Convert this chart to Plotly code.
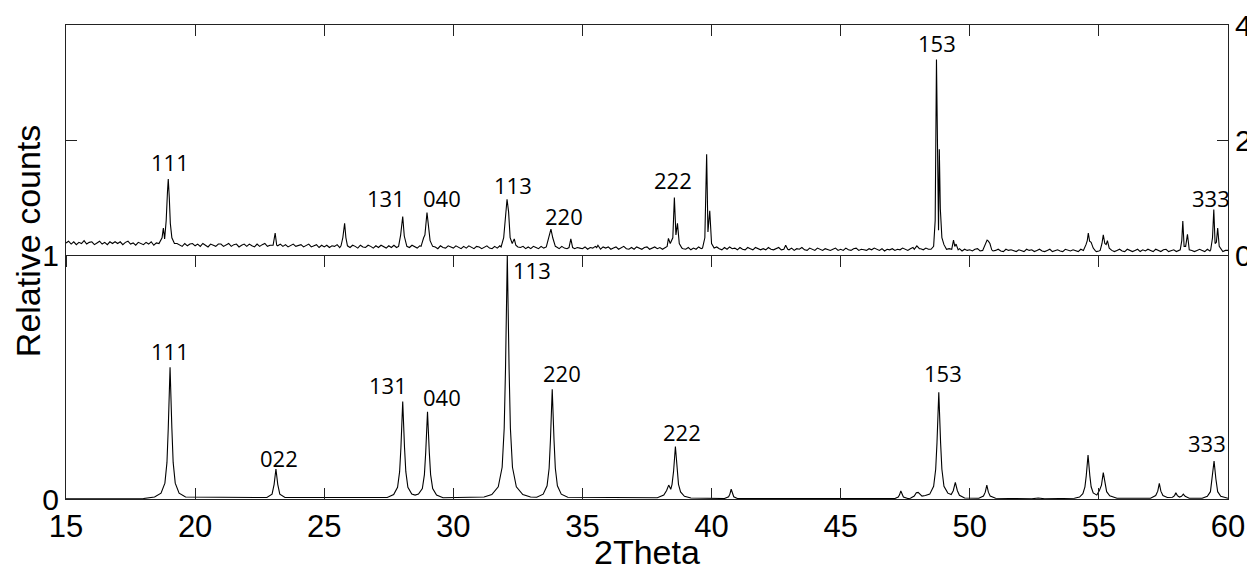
import numpy as np
import plotly.graph_objects as go

# ---- calculated pattern (lower panel) ----
calc_x = [
    15.0, 18.0,
    18.43, 18.68, 18.83, 18.91, 18.96, 19.03, 19.10, 19.15, 19.23, 19.38, 19.63,
    22.78, 22.98, 23.06, 23.13, 23.20, 23.28, 23.48,
    27.44, 27.69, 27.84, 27.92, 27.97, 28.04, 28.11, 28.16, 28.24, 28.39,
    28.52,
    28.65, 28.80, 28.88, 28.93, 29.00, 29.07, 29.12, 29.20, 29.35, 29.60,
    31.19, 31.49, 31.74, 31.89, 31.97, 32.02, 32.09, 32.16, 32.21, 32.29, 32.44, 32.69, 32.99,
    33.23, 33.48, 33.63, 33.71, 33.76, 33.83, 33.90, 33.95, 34.03, 34.18, 34.43,
    36.5, 37.9,
    38.15, 38.26, 38.34, 38.42, 38.47, 38.53, 38.60, 38.67, 38.72, 38.80, 38.95, 39.2,
    40.5, 40.66, 40.71, 40.76, 40.81, 40.86, 41.0,
    47.1, 47.23, 47.28, 47.33, 47.38, 47.43, 47.6,
    47.7, 47.85, 47.93, 48.0, 48.07, 48.15,
    48.28, 48.45, 48.60, 48.68, 48.73, 48.80, 48.87, 48.92, 49.0, 49.15,
    49.28, 49.36, 49.44, 49.52, 49.6, 49.8,
    50.35, 50.53, 50.6, 50.66, 50.72, 50.79, 51.0,
    52.4, 52.65, 52.9,
    54.05, 54.25, 54.38, 54.46, 54.51, 54.58, 54.65, 54.70, 54.78, 54.92,
    55.02, 55.10, 55.17, 55.24, 55.30, 55.42, 55.7,
    57.0, 57.2, 57.28, 57.34, 57.40, 57.48, 57.65,
    57.85, 57.93, 57.98, 58.04, 58.12, 58.2, 58.27, 58.34, 58.5,
    59.0, 59.2, 59.32, 59.39, 59.46, 59.53, 59.6, 59.72, 60.0,
]
calc_y = [
    0.001, 0.002,
    0.008, 0.024, 0.065, 0.15, 0.29, 0.54, 0.29, 0.15, 0.065, 0.024, 0.008,
    0.006, 0.02, 0.06, 0.123, 0.06, 0.02, 0.006,
    0.006, 0.018, 0.048, 0.112, 0.21, 0.40, 0.21, 0.112, 0.048, 0.02,
    0.016,
    0.02, 0.043, 0.10, 0.19, 0.358, 0.19, 0.10, 0.043, 0.016, 0.005,
    0.008, 0.018, 0.05, 0.13, 0.29, 0.53, 1.0, 0.53, 0.29, 0.13, 0.05, 0.018, 0.008,
    0.007, 0.02, 0.054, 0.126, 0.24, 0.45, 0.24, 0.126, 0.054, 0.02, 0.007,
    0.004, 0.005,
    0.016, 0.035, 0.057, 0.04, 0.06, 0.115, 0.215, 0.115, 0.06, 0.029, 0.011, 0.004,
    0.002, 0.009, 0.02, 0.04, 0.02, 0.009, 0.002,
    0.002, 0.008, 0.017, 0.033, 0.017, 0.008, 0.002,
    0.003, 0.012, 0.026, 0.027, 0.02, 0.012,
    0.014, 0.02, 0.052, 0.122, 0.23, 0.437, 0.23, 0.122, 0.052, 0.024,
    0.018, 0.034, 0.068, 0.034, 0.015, 0.004,
    0.003, 0.012, 0.028, 0.057, 0.028, 0.012, 0.003,
    0.001, 0.004, 0.001,
    0.003, 0.008, 0.022, 0.05, 0.095, 0.18, 0.095, 0.05, 0.025, 0.016,
    0.035, 0.057, 0.108, 0.057, 0.03, 0.013, 0.003,
    0.003, 0.014, 0.032, 0.064, 0.032, 0.014, 0.006,
    0.007, 0.014, 0.026, 0.014, 0.008, 0.011, 0.02, 0.011, 0.003,
    0.003, 0.011, 0.03, 0.083, 0.156, 0.083, 0.03, 0.011, 0.003,
]

# ---- measured pattern (upper panel) ----
# background counts every 0.1 deg from 15.0, in hundredths of the right axis
meas_bg = [
    21, 24, 19, 23, 18, 22, 20, 25, 19, 22,
    23, 18, 21, 24, 19, 22, 18, 23, 20, 23,
    20, 23, 18, 22, 24, 19, 21, 17, 22, 20,
    18, 22, 19, 23, 17, 21, 22, 18, 22, 20,
    17, 21, 16, 20, 18, 15, 20, 16, 19, 20,
    16, 19, 15, 20, 17, 14, 19, 17, 15, 19,
    19, 15, 17, 20, 15, 18, 19, 14, 17, 19,
    15, 19, 16, 14, 19, 15, 18, 20, 15, 17,
    17, 14, 16, 19, 15, 18, 14, 16, 19, 15,
    16, 18, 14, 17, 19, 14, 16, 18, 13, 17,
    14, 17, 13, 16, 15, 18, 13, 15, 17, 14,
    13, 17, 15, 12, 17, 14, 13, 17, 15, 12,
    16, 13, 17, 14, 12, 16, 13, 17, 13, 15,
    14, 12, 16, 13, 17, 14, 12, 16, 13, 12,
    15, 16, 12, 14, 11, 16, 13, 12, 16, 14,
    12, 16, 13, 11, 15, 12, 16, 13, 11, 15,
    14, 11, 13, 16, 12, 11, 15, 12, 16, 13,
    12, 15, 11, 13, 16, 11, 13, 15, 11, 14,
    11, 15, 13, 11, 15, 12, 11, 14, 15, 11,
    14, 11, 15, 12, 11, 14, 16, 11, 13, 12,
    11, 14, 10, 13, 12, 15, 11, 10, 14, 12,
    14, 10, 12, 14, 10, 12, 15, 11, 10, 13,
    10, 14, 12, 10, 13, 14, 10, 12, 14, 11,
    13, 10, 12, 14, 10, 13, 10, 12, 14, 11,
    10, 13, 9, 12, 10, 14, 11, 13, 9, 11,
    13, 10, 14, 11, 9, 13, 10, 14, 11, 12,
    9, 13, 10, 9, 13, 11, 9, 13, 11, 9,
    11, 9, 13, 10, 9, 11, 13, 9, 12, 10,
    9, 12, 8, 11, 10, 13, 9, 8, 12, 10,
    8, 12, 10, 8, 11, 10, 8, 10, 12, 8,
    10, 8, 12, 9, 8, 11, 12, 8, 10, 9,
    8, 11, 9, 12, 10, 8, 11, 7, 10, 9,
    11, 8, 10, 9, 12, 10, 8, 11, 13, 10,
    8, 11, 9, 12, 10, 8, 7, 11, 9, 10,
    9, 7, 11, 9, 7, 9, 11, 7, 10, 8,
    9, 7, 10, 11, 7, 9, 8, 10, 11, 7,
    8, 10, 7, 6, 10, 8, 9, 7, 6, 9,
    7, 6, 10, 8, 9, 6, 8, 10, 7, 6,
    8, 10, 6, 8, 9, 7, 6, 10, 8, 7,
    9, 7, 6, 10, 8, 11, 7, 9, 8, 6,
    7, 6, 10, 8, 11, 8, 6, 8, 10, 7,
    6, 10, 8, 6, 8, 10, 6, 9, 7, 10,
    8, 6, 10, 8, 6, 9, 10, 6, 8, 9,
    6, 8, 10, 8, 6, 9, 8, 6, 8, 10,
    8, 6, 10, 7, 9, 6, 8, 10, 6, 8,
    8,
]

# peaks of the measured pattern, one group per reflection
meas_peak_x = [
    [18.6, 18.72, 18.77, 18.82, 18.88, 18.93, 18.96, 19.0, 19.04, 19.1, 19.2],
    [23.02, 23.1, 23.16],
    [25.65, 25.72, 25.79, 25.84, 25.9],
    [27.88, 27.96, 28.04, 28.1, 28.2],
    [28.75, 28.85, 28.9, 28.98, 29.05, 29.1, 29.2],
    [31.85, 31.95, 32.02, 32.08, 32.14, 32.2, 32.28, 32.36, 32.42, 32.5],
    [33.6, 33.7, 33.78, 33.85, 33.95],
    [34.48, 34.55, 34.62],
    [35.55, 35.6, 35.65],
    [38.2, 38.28, 38.33, 38.4, 38.5, 38.56, 38.62, 38.68, 38.75, 38.85],
    [39.65, 39.74, 39.81, 39.86, 39.93, 40.0, 40.1],
    [42.8, 42.87, 42.95],
    [47.85, 47.95, 48.05],
    [48.5, 48.6, 48.66, 48.71, 48.76, 48.79, 48.82, 48.86, 48.92, 49.0, 49.1],
    [49.3, 49.37, 49.42, 49.47, 49.55],
    [50.5, 50.6, 50.67, 50.72, 50.78, 50.85],
    [54.4, 54.5, 54.55, 54.59, 54.64, 54.7, 54.78, 54.85],
    [55.05, 55.12, 55.17, 55.23, 55.28, 55.33, 55.4, 55.5],
    [58.15, 58.21, 58.25, 58.3, 58.36, 58.43, 58.5],
    [59.33, 59.4, 59.45, 59.5, 59.55, 59.6, 59.66, 59.75],
]
meas_peak_y = [
    [0.2, 0.3, 0.47, 0.28, 0.6, 1.1, 1.32, 1.0, 0.55, 0.3, 0.2],
    [0.17, 0.38, 0.17],
    [0.16, 0.3, 0.55, 0.3, 0.16],
    [0.15, 0.35, 0.67, 0.33, 0.15],
    [0.15, 0.3, 0.35, 0.74, 0.5, 0.25, 0.15],
    [0.14, 0.3, 0.7, 0.97, 0.75, 0.3, 0.2, 0.28, 0.17, 0.14],
    [0.14, 0.3, 0.45, 0.3, 0.15],
    [0.13, 0.28, 0.13],
    [0.13, 0.17, 0.12],
    [0.12, 0.15, 0.29, 0.2, 0.3, 1.0, 0.35, 0.55, 0.2, 0.12],
    [0.12, 0.3, 1.75, 0.4, 0.77, 0.2, 0.12],
    [0.1, 0.17, 0.1],
    [0.1, 0.16, 0.11],
    [0.1, 0.15, 0.6, 3.40, 0.5, 0.43, 1.84, 0.8, 0.3, 0.18, 0.1],
    [0.1, 0.26, 0.15, 0.19, 0.09],
    [0.08, 0.18, 0.26, 0.24, 0.2, 0.09],
    [0.08, 0.18, 0.25, 0.38, 0.24, 0.22, 0.12, 0.08],
    [0.08, 0.2, 0.35, 0.2, 0.18, 0.25, 0.12, 0.08],
    [0.09, 0.25, 0.59, 0.15, 0.15, 0.36, 0.09],
    [0.09, 0.3, 0.79, 0.2, 0.22, 0.47, 0.15, 0.08],
]

# Miller index labels
top_labels = ["111", "131", "040", "113", "220", "222", "153", "333"]
top_label_x = [19.03, 27.39, 29.55, 32.32, 34.29, 38.51, 48.72, 59.33]
top_label_y = [1.62, 1.0, 1.0, 1.22, 0.68, 1.30, 3.68, 1.0]

bot_labels = ["111", "022", "131", "040", "113", "220", "222", "153", "333"]
bot_label_x = [19.03, 23.25, 27.47, 29.55, 33.04, 34.2, 38.85, 48.95, 59.19]
bot_label_y = [0.608, 0.168, 0.467, 0.419, 0.939, 0.515, 0.273, 0.515, 0.228]

x_ticks = [15, 20, 25, 30, 35, 40, 45, 50, 55, 60]

# build the measured curve: background grid, with peak windows replaced
bg_x = np.round(15.0 + 0.1 * np.arange(len(meas_bg)), 2)
bg_y = np.array(meas_bg) / 100.0
keep = np.ones(len(bg_x), dtype=bool)
for px in meas_peak_x:
    keep &= ~((bg_x >= min(px)) & (bg_x <= max(px)))
mx = list(bg_x[keep])
my = list(bg_y[keep])
for px, py in zip(meas_peak_x, meas_peak_y):
    mx += px
    my += py
order = np.argsort(mx, kind="stable")
meas_x = np.array(mx)[order]
meas_y = np.array(my)[order]

# the page body adds an 8px margin, so the figure is drawn 8px smaller
split = 244 / 474
line_col = "#222222"
tick_font = dict(family="Liberation Sans, Arial, sans-serif", size=31, color="black")
right_font = dict(family="Liberation Sans, Arial, sans-serif", size=30, color="black")
label_font = dict(family="Open Sans, Noto Sans, sans-serif", size=22, color="black")
title_font = dict(family="Liberation Sans, Arial, sans-serif", size=34, color="black")

fig = go.Figure()
fig.add_trace(go.Scatter(x=calc_x, y=calc_y, mode="lines",
                         line=dict(color="black", width=1.1),
                         xaxis="x", yaxis="y", hoverinfo="skip"))
fig.add_trace(go.Scatter(x=meas_x, y=meas_y, mode="lines",
                         line=dict(color="black", width=1.1),
                         xaxis="x2", yaxis="y2", hoverinfo="skip"))
fig.add_trace(go.Scatter(x=[], y=[], xaxis="x3", yaxis="y2", hoverinfo="skip"))

annotations = []
for t, x, y in zip(top_labels, top_label_x, top_label_y):
    annotations.append(dict(text=t, x=x, y=y, xref="x2", yref="y2", showarrow=False,
                            font=label_font, xanchor="center", yanchor="middle"))
for t, x, y in zip(bot_labels, bot_label_x, bot_label_y):
    annotations.append(dict(text=t, x=x, y=y, xref="x", yref="y", showarrow=False,
                            font=label_font, xanchor="center", yanchor="middle"))
annotations.append(dict(text="2Theta", x=0.5, y=-0.112, xref="paper", yref="paper",
                        showarrow=False, font=title_font,
                        xanchor="center", yanchor="middle"))
annotations.append(dict(text="Relative counts", x=-0.0327, y=0.544, xref="paper", yref="paper",
                        showarrow=False, textangle=-90, font=title_font,
                        xanchor="center", yanchor="middle"))

fig.update_layout(
    width=1247, height=562,
    margin=dict(l=58, r=27, t=17, b=71),
    paper_bgcolor="white", plot_bgcolor="white",
    showlegend=False,
    xaxis=dict(domain=[0, 1], anchor="y", range=[15, 60], tickvals=x_ticks, automargin=False,
               ticks="inside", ticklen=11, tickcolor=line_col, tickwidth=1,
               showline=True, linecolor=line_col, linewidth=1,
               showgrid=False, zeroline=False, tickfont=tick_font),
    yaxis=dict(domain=[0, split], anchor="x", range=[0, 1], tickvals=[0, 1], automargin=False,
               ticks="", showline=True, linecolor=line_col, linewidth=1, mirror=True,
               showgrid=False, zeroline=False, tickfont=right_font),
    xaxis2=dict(domain=[0, 1], anchor="y2", matches="x", range=[15, 60], tickvals=x_ticks,
                ticks="outside", ticklen=11, tickcolor=line_col, tickwidth=1, automargin=False,
                showticklabels=False, showline=True, linecolor=line_col, linewidth=1,
                mirror=True, showgrid=False, zeroline=False),
    xaxis3=dict(overlaying="x2", anchor="y2", side="top", range=[15, 60], tickvals=x_ticks,
                ticks="inside", ticklen=11, tickcolor=line_col, tickwidth=1, automargin=False,
                showticklabels=False, showline=False, showgrid=False, zeroline=False),
    yaxis2=dict(domain=[split, 1], anchor="x2", side="right", range=[0, 4], tickvals=[0, 2, 4],
                ticks="inside", ticklen=11, tickcolor=line_col, tickwidth=1, automargin=False,
                ticklabeloverflow="allow",
                showline=True, linecolor=line_col, linewidth=1, mirror="ticks",
                showgrid=False, zeroline=False, tickfont=right_font),
    annotations=annotations,
)

fig.write_html("out.html")
